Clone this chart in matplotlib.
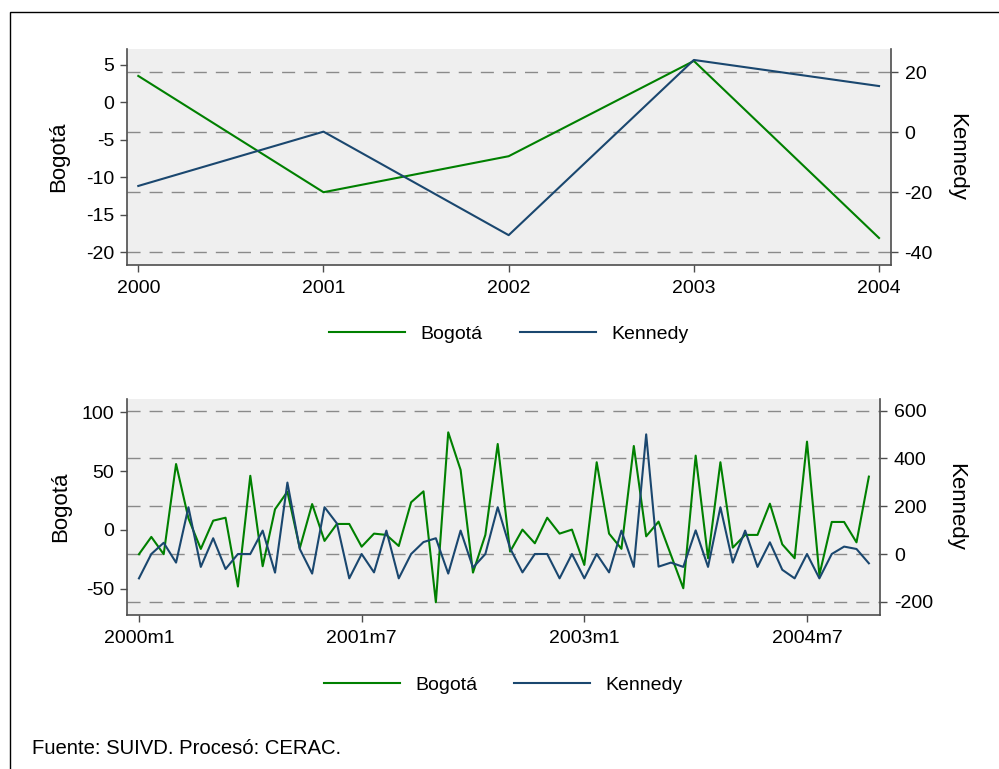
import numpy as np
import matplotlib
matplotlib.use("Agg")
import matplotlib.pyplot as plt
import matplotlib.patches as mpatches
import matplotlib.transforms as mtransforms
from matplotlib.lines import Line2D

plt.rcParams['font.family'] = ['Liberation Sans', 'DejaVu Sans']
plt.rcParams['axes.unicode_minus'] = False

# Serie anual (variacion %)
YEARS = [2000, 2001, 2002, 2003, 2004]
BOGOTA_ANUAL = [3.5, -12.0, -7.2, 5.5, -18.1]
KENNEDY_ANUAL = [-17.9, 0.2, -34.3, 24.1, 15.4]

# Serie mensual 2000m1 - 2004m12
MONTH_LABELS = [f"{y}m{m}" for y in range(2000, 2005) for m in range(1, 13)]
BOGOTA_MENSUAL = [
    -20.6, -5.9, -20.6, 56.0, 9.9, -16.1, 7.9, 10.4, -48.0, 46.0,
    -30.8, 17.6, 32.5, -15.5, 22.0, -9.3, 5.1, 5.1, -14.2, -3.1,
    -4.2, -13.6, 23.5, 32.8, -61.4, 82.9, 51.0, -36.2, -4.2, 73.0,
    -18.4, 0.3, -11.3, 10.4, -3.1, 0.3, -29.7, 57.5, -3.1, -16.0,
    71.3, -5.4, 7.1, -21.2, -49.5, 63.1, -24.0, 57.5, -15.0, -4.2,
    -4.2, 22.3, -12.2, -24.0, 75.0, -38.2, 6.8, 6.8, -10.5, 45.3,
]
KENNEDY_MENSUAL = [
    -102, 0, 47, -36, 196, -54, 66, -63, 0, 0,
    98, -78, 299, 21, -82, 196, 128, -102, 0, -77,
    98, -102, 0, 50, 66, -82, 98, -57, 0, 196,
    24, -77, 0, 0, -102, 0, -102, 0, -77, 98,
    -54, 501, -53, -36, -54, 99, -54, 196, -36, 98,
    -54, 49, -66, -102, 0, -102, 0, 31, 21, -39,
]
MONTH_TICKS = ["2000m1", "2001m7", "2003m1", "2004m7"]

# Ejes
TOP_TICKS_L = [-20, -15, -10, -5, 0, 5]
TOP_TICKS_R = [-40, -20, 0, 20]
BOT_TICKS_L = [-50, 0, 50, 100]
BOT_TICKS_R = [-200, 0, 200, 400, 600]

GREEN = "#008000"
NAVY = "#1a476f"
BG = "#efefef"
GRID = "#8a8a8a"
SPINE = "#4d4d4d"
TICK_FS = 14
LABEL_FS = 16


def draw_panel(fig, rect, x, bog, ken, xticks, xticklabels, xlim,
               ylim_l, ylim_r, ticks_l, ticks_r, lab_x_l, lab_x_r):
    ax = fig.add_axes(rect)
    ax2 = ax.twinx()
    ax.set_facecolor(BG)

    ax.plot(x, bog, color=GREEN, lw=1.5, zorder=3)
    ax2.plot(x, ken, color=NAVY, lw=1.5, zorder=3)

    ax.set_xlim(*xlim)
    ax.set_ylim(*ylim_l)
    ax2.set_ylim(*ylim_r)
    ax.set_yticks(ticks_l)
    ax2.set_yticks(ticks_r)
    ax.set_xticks(xticks)
    ax.set_xticklabels(xticklabels)

    # lineas guia en las marcas del eje derecho, pero por debajo de las series
    trans = mtransforms.blended_transform_factory(ax.transAxes, ax2.transData)
    for v in ticks_r:
        ax.plot([0, 1], [v, v], transform=trans, color=GRID, lw=1.0,
                dashes=(9.4, 6.5), zorder=1)
    ax.set_xlim(*xlim)
    ax.set_ylim(*ylim_l)

    for a in (ax, ax2):
        a.spines['top'].set_visible(False)
        for s in a.spines.values():
            s.set_color(SPINE)
            s.set_linewidth(1.2)
    ax.spines['right'].set_visible(False)
    ax2.spines['left'].set_visible(False)
    ax2.spines['bottom'].set_visible(False)

    ax.tick_params(axis='y', direction='out', length=5, width=1, color=SPINE,
                   labelsize=TICK_FS, pad=4)
    ax.tick_params(axis='x', direction='out', length=5, width=1, color=SPINE,
                   labelsize=TICK_FS, pad=6)
    ax2.tick_params(axis='y', direction='out', length=5, width=1, color=SPINE,
                    labelsize=TICK_FS, pad=5)

    ax.set_ylabel("Bogotá", fontsize=LABEL_FS, va='center', ha='center')
    ax.yaxis.set_label_coords(lab_x_l, 0.5)
    ax2.set_ylabel("Kennedy", fontsize=LABEL_FS, rotation=270, va='center', ha='center')
    ax2.yaxis.set_label_coords(lab_x_r, 0.5)
    return ax, ax2


def add_legend(fig, cx, cy):
    handles = [Line2D([], [], color=GREEN, lw=1.5, label="Bogotá"),
               Line2D([], [], color=NAVY, lw=1.5, label="Kennedy")]
    fig.legend(handles=handles, loc='center', bbox_to_anchor=(cx, cy), ncol=2,
               frameon=False, fontsize=TICK_FS, handlelength=3.9,
               handletextpad=0.8, columnspacing=1.9)


def main():
    W, H = 999, 769
    fig = plt.figure(figsize=(W / 100, H / 100), dpi=100, facecolor='white')

    # marco exterior (cortado a la derecha y abajo)
    fig.add_artist(mpatches.Rectangle((9.5 / W, -0.05), 1.2, 1 - 11.7 / H + 0.05,
                                      transform=fig.transFigure, fill=False,
                                      edgecolor='black', lw=1.0))

    # Panel anual
    draw_panel(fig, [127 / W, 1 - 265 / H, (890.7 - 127) / W, 216 / H],
               YEARS, BOGOTA_ANUAL, KENNEDY_ANUAL,
               YEARS, [str(y) for y in YEARS], (1999.939, 2004.063),
               (-21.7, 7.09), (-44.25, 27.75), TOP_TICKS_L, TOP_TICKS_R,
               -0.089, 1.0868)
    add_legend(fig, 508.9 / W, 1 - 334 / H)

    # Panel mensual
    x = np.arange(len(MONTH_LABELS))
    xticks = [MONTH_LABELS.index(t) for t in MONTH_TICKS]
    draw_panel(fig, [126.7 / W, 1 - 615 / H, (880 - 126.7) / W, 216 / H],
               x, BOGOTA_MENSUAL, KENNEDY_MENSUAL,
               xticks, MONTH_TICKS, (-0.99, 59.9),
               (-72.2, 111.2), (-255.4, 649), BOT_TICKS_L, BOT_TICKS_R,
               -0.0872, 1.1009)
    add_legend(fig, 503.3 / W, 1 - 685 / H)

    fig.text(31.7 / W, 1 - 748 / H, "Fuente: SUIVD. Procesó: CERAC.",
             fontsize=14.6, va='center', ha='left')

    fig.savefig("out.png", dpi=100, facecolor='white')
    plt.close(fig)


if __name__ == "__main__":
    main()
